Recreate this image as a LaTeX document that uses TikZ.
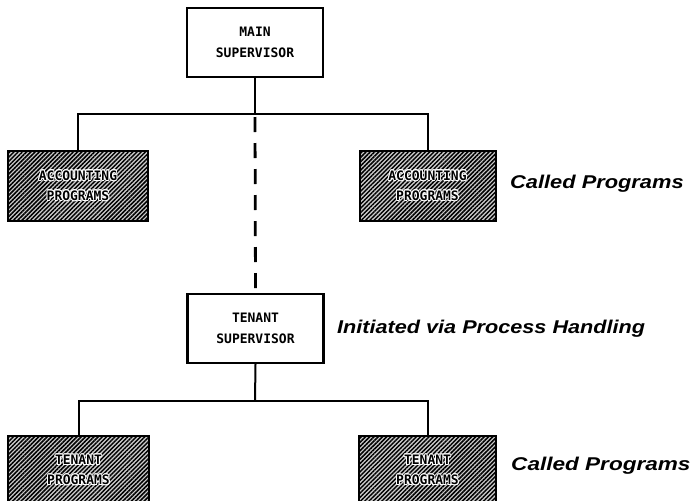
\documentclass[tikz,border=0pt]{standalone}
\usepackage{fontspec}
\setmainfont{Liberation Sans}
\newfontfamily\boxfont{DejaVu Sans Mono}
\newfontfamily\labfont{Liberation Sans}
\usepackage{contour}
\contourlength{0.9pt}
\contournumber{12}
\usetikzlibrary{patterns.meta}
\begin{document}
\begin{tikzpicture}[x=1pt,y=-1pt,
  supbox/.style={draw=black, line width=2.2pt, fill=white, minimum width=136pt, minimum height=69pt, inner sep=0pt, align=center,
    font=\boxfont\bfseries\fontsize{13}{21}\selectfont},
  hatchbox/.style={draw=black, line width=2pt, fill=gray!40,
    postaction={pattern={Lines[angle=45,distance=3pt,line width=1.5pt]}},
    minimum height=70pt, inner sep=0pt, align=center,
    font=\boxfont\bfseries\fontsize{13}{20}\selectfont},
  conn/.style={line width=2pt},
  dashconn/.style={line width=2.8pt, dash pattern=on 15pt off 11pt},
  lab/.style={anchor=west, inner sep=0pt, font=\labfont\bfseries\itshape\fontsize{18.5}{22}\selectfont}
]
\clip (0,0) rectangle (694,501);
\fill[white] (0,0) rectangle (694,501);

\node[supbox] (main) at (255,42.5) {MAIN\\SUPERVISOR};
\node[hatchbox, minimum width=140pt] (acc1) at (78,186) {\contour{white}{ACCOUNTING}\\\contour{white}{PROGRAMS}};
\node[hatchbox, minimum width=136pt] (acc2) at (427.5,186) {\contour{white}{ACCOUNTING}\\\contour{white}{PROGRAMS}};
\node[supbox] (tsup) at (255.5,328.5) {TENANT\\SUPERVISOR};
\node[hatchbox, minimum width=141pt, minimum height=72pt] (ten1) at (78.5,472) {\raisebox{4pt}{\contour{white}{TENANT}}\\\raisebox{4pt}{\contour{white}{PROGRAMS}}};
\node[hatchbox, minimum width=137pt, minimum height=72pt] (ten2) at (427.5,472) {\raisebox{4pt}{\contour{white}{TENANT}}\\\raisebox{4pt}{\contour{white}{PROGRAMS}}};

\coordinate (j1) at (255,114);
\coordinate (j2) at (255,401);

\draw[conn] (main.south) -- (j1);
\draw[conn] (acc1.north) |- (j1) -| (acc2.north);
\draw[dashconn] (j1) ++(0,3) -- (tsup.north);
\draw[conn] (tsup.south) -- (j2);
\draw[conn] (ten1.north) |- (j2) -| (ten2.north);

\node[lab] (l1) at (510,184) {\scalebox{1.18}[1]{Called Programs}};
\node[lab] (l2) at (337,329) {\scalebox{1.17}[1]{Initiated via Process Handling}};
\node[lab] (l3) at (511,466) {\scalebox{1.22}[1]{Called Programs}};
\end{tikzpicture}
\end{document}
